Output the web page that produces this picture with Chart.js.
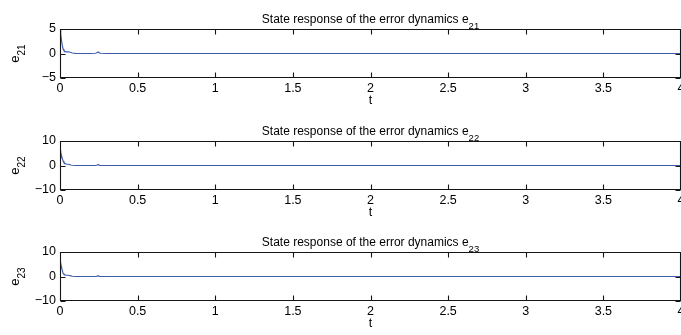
<!DOCTYPE html>
<html><head><meta charset="utf-8">
<script src="https://cdn.jsdelivr.net/npm/chart.js@4/dist/chart.umd.min.js"></script>
<style>
html,body{margin:0;padding:0;background:#fff;overflow:hidden;width:681px;height:335px}
canvas{position:absolute;left:0}
</style></head><body>
<canvas id="c1" width="681" height="111" style="top:0px"></canvas>
<canvas id="c2" width="681" height="111" style="top:112px"></canvas>
<canvas id="c3" width="681" height="111" style="top:223px"></canvas>
<script>
// ---- data ----
const time = [0, 0.003, 0.006, 0.01, 0.015, 0.02, 0.025, 0.03, 0.04, 0.05, 0.06, 0.07, 0.08, 0.1, 0.15, 0.2, 0.23, 0.24, 0.245, 0.25, 0.26, 0.3, 0.5, 1, 1.5, 2, 2.5, 3, 3.5, 4];
const e21 = [4.5, 4.8, 4.0, 2.6, 1.6, 0.9, 0.6, 0.45, 0.35, 0.35, 0.3, 0.2, 0.1, 0.02, 0, 0, 0.05, 0.2, 0.3, 0.2, 0.05, 0, 0, 0, 0, 0, 0, 0, 0, 0];
const e22 = [3.0, 6.2, 5.5, 4.0, 2.8, 1.8, 1.2, 0.9, 0.6, 0.5, 0.4, 0.2, 0.1, 0, 0, 0, 0, 0.2, 0.4, 0.2, 0, 0, 0, 0, 0, 0, 0, 0, 0, 0];
const e23 = [3.5, 5.8, 5.2, 3.8, 2.4, 1.3, 0.9, 0.7, 0.55, 0.5, 0.4, 0.25, 0.1, 0, 0, 0, 0, 0.15, 0.3, 0.15, 0, 0, 0, 0, 0, 0, 0, 0, 0, 0];
const xTicks = [0, 0.5, 1, 1.5, 2, 2.5, 3, 3.5, 4];
const panels = [
  {id:'c1', values:e21, sub:'21', yMin:-5, yMax:5, yStep:5},
  {id:'c2', values:e22, sub:'22', yMin:-10, yMax:10, yStep:10},
  {id:'c3', values:e23, sub:'23', yMin:-10, yMax:10, yStep:10}
];
const titleMain = 'State response of the error dynamics e';
const yMain = 'e';
const xLabel = 't';

const FONT = '"Liberation Sans", Arial, Helvetica, sans-serif';
Chart.defaults.font.family = FONT;
Chart.defaults.color = '#000';

const frame = {
  id: 'frame',
  afterDatasetsDraw(chart, args, opts) {
    const {ctx, chartArea: a, scales: {x, y}} = chart;
    ctx.save();
    ctx.strokeStyle = '#151515';
    ctx.lineWidth = 1.1;
    const L = Math.round(a.left) + 0.5, R = Math.round(a.right) - 0.5;
    const T = Math.round(a.top) + 0.5, B = Math.round(a.bottom) - 0.5;
    ctx.beginPath();
    ctx.rect(L, T, R - L, B - T);
    const tl = 5;
    x.ticks.forEach(t => {
      const px = Math.round(x.getPixelForValue(t.value)) + 0.5;
      ctx.moveTo(px, T); ctx.lineTo(px, T + tl);
      ctx.moveTo(px, B); ctx.lineTo(px, B - tl);
    });
    y.ticks.forEach(t => {
      const py = Math.round(y.getPixelForValue(t.value)) + 0.5;
      ctx.moveTo(L, py); ctx.lineTo(L + tl, py);
      ctx.moveTo(R, py); ctx.lineTo(R - tl, py);
    });
    ctx.stroke();
    // title with subscript
    const cx = (a.left + a.right) / 2;
    ctx.fillStyle = '#000';
    ctx.textBaseline = 'alphabetic';
    ctx.textAlign = 'left';
    ctx.font = '12px ' + FONT;
    const w1 = ctx.measureText(titleMain).width;
    ctx.font = '9.5px ' + FONT;
    const w2 = ctx.measureText(opts.sub).width;
    let sx = cx - (w1 + w2) / 2;
    ctx.font = '12px ' + FONT;
    ctx.fillText(titleMain, sx, 23);
    ctx.font = '9.5px ' + FONT;
    ctx.fillText(opts.sub, sx + w1, 28.5);
    // y label with subscript (rotated)
    ctx.translate(18.5, (a.top + a.bottom) / 2);
    ctx.rotate(-Math.PI / 2);
    ctx.font = '13px ' + FONT;
    const v1 = ctx.measureText(yMain).width;
    ctx.font = '10px ' + FONT;
    const v2 = ctx.measureText(opts.sub).width;
    const lx = -(v1 + v2) / 2;
    ctx.font = '13px ' + FONT;
    ctx.fillText(yMain, lx, 0);
    ctx.font = '10px ' + FONT;
    ctx.fillText(opts.sub, lx + v1, 6.5);
    ctx.restore();
  }
};

panels.forEach(p => {
  new Chart(document.getElementById(p.id), {
    type: 'line',
    data: {
      datasets: [{
        data: time.map((t, i) => ({x: t, y: p.values[i]})),
        borderColor: 'rgb(62,92,172)',
        borderWidth: 1.2,
        pointRadius: 0,
        tension: 0,
        fill: false
      }]
    },
    options: {
      responsive: false,
      devicePixelRatio: 1,
      animation: false,
      events: [],
      layout: {padding: {top: 29, right: 0, bottom: 0, left: 0}},
      plugins: {legend: {display: false}, tooltip: {enabled: false}, title: {display: false}, frame: {sub: p.sub}},
      scales: {
        x: {
          type: 'linear', min: 0, max: 4,
          afterBuildTicks: s => { s.ticks = xTicks.map(v => ({value: v})); },
          afterFit: s => { s.height = 33; s.paddingLeft = 0; s.paddingRight = 0; },
          grid: {display: false, drawTicks: false},
          border: {display: false},
          ticks: {autoSkip: false, maxRotation: 0, padding: 3, font: {size: 12.5}, color: '#000',
                  callback: v => String(v)},
          title: {display: true, text: xLabel, font: {size: 12.5}, color: '#000', padding: {top: 0, bottom: 3}}
        },
        y: {
          type: 'linear', min: p.yMin, max: p.yMax,
          ticks: {stepSize: p.yStep, padding: 4, font: {size: 12.5}, color: '#000',
                  callback: v => String(v).replace('-', '\u2212')},
          afterFit: s => { s.width = 60; s.paddingTop = 0; s.paddingBottom = 0; },
          grid: {display: false, drawTicks: false},
          border: {display: false}
        }
      }
    },
    plugins: [frame]
  });
});
</script>
</body></html>
